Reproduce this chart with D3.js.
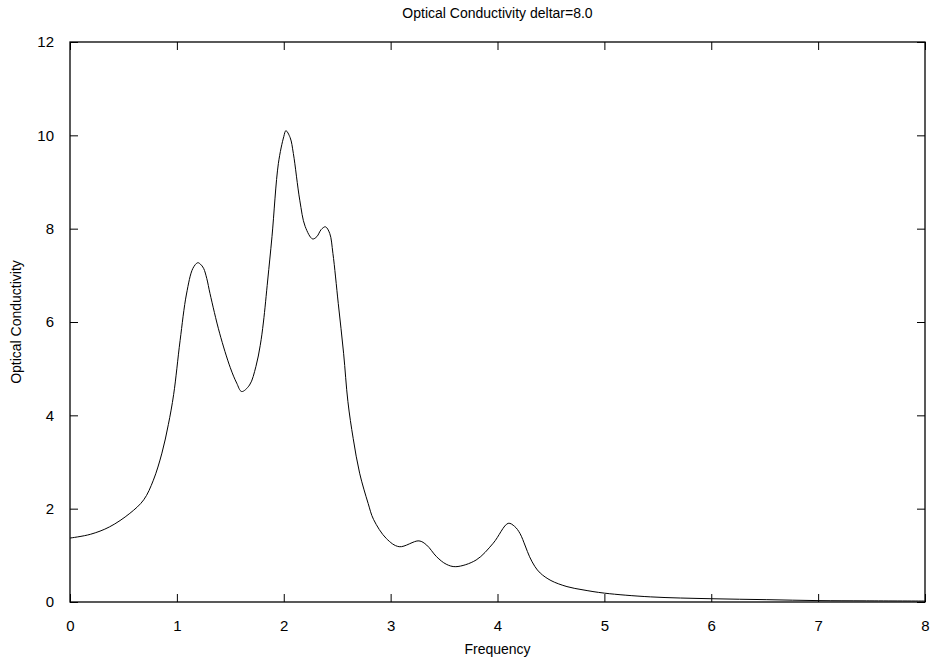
<!DOCTYPE html>
<html>
<head>
<meta charset="utf-8">
<script src="https://cdn.jsdelivr.net/npm/d3@7"></script>
<style>
  body { margin: 0; background: #fff; }
  svg { display: block; font-family: "Liberation Sans", Arial, sans-serif; }
</style>
</head>
<body>
<div id="chart"></div>
<script>
// values
const freq = [0, 0.19, 0.37, 0.56, 0.69, 0.78, 0.86, 0.92, 0.97, 1.03, 1.09, 1.15, 1.195, 1.22, 1.25, 1.28, 1.31, 1.4, 1.5, 1.56, 1.606, 1.68, 1.74, 1.78, 1.81, 1.85, 1.89, 1.95, 2.0, 2.02, 2.06, 2.09, 2.15, 2.2, 2.27, 2.31, 2.35, 2.39, 2.43, 2.46, 2.51, 2.56, 2.6, 2.65, 2.71, 2.79, 2.84, 2.96, 3.08, 3.265, 3.337, 3.43, 3.52, 3.61, 3.8, 3.96, 4.1, 4.16, 4.21, 4.26, 4.3, 4.35, 4.4, 4.5, 4.65, 4.8, 5.0, 5.43, 6.0, 6.52, 7.0, 7.45, 8.0];
const sigma = [1.37, 1.45, 1.61, 1.9, 2.19, 2.61, 3.19, 3.8, 4.45, 5.6, 6.6, 7.15, 7.27, 7.24, 7.15, 6.93, 6.61, 5.76, 5.02, 4.69, 4.51, 4.65, 5.05, 5.5, 6.0, 6.9, 7.83, 9.4, 9.97, 10.1, 9.95, 9.61, 8.61, 8.05, 7.78, 7.83, 7.98, 8.04, 7.9, 7.47, 6.4, 5.33, 4.3, 3.5, 2.76, 2.11, 1.77, 1.36, 1.185, 1.31, 1.22, 0.97, 0.81, 0.757, 0.9, 1.26, 1.686, 1.62, 1.47, 1.2, 0.97, 0.76, 0.62, 0.46, 0.33, 0.26, 0.19, 0.11, 0.07, 0.05, 0.03, 0.025, 0.02];
const xTicks = [0, 1, 2, 3, 4, 5, 6, 7, 8];
const yTicks = [0, 2, 4, 6, 8, 10, 12];

const w = 932, h = 662;
const padL = 70, padR = 925, padT = 42, padB = 602;

const xScale = d3.scaleLinear().domain([0, 8]).range([padL, padR]);
const yScale = d3.scaleLinear().domain([0, 12]).range([padB, padT]);

const svg = d3.select("#chart").append("svg")
  .attr("width", w)
  .attr("height", h);

// axes: ticks pointing inward, mirrored on opposite side
const xAxis = d3.axisBottom(xScale).tickValues(xTicks).tickSizeInner(-8).tickSizeOuter(0).tickPadding(18);
const yAxis = d3.axisLeft(yScale).tickValues(yTicks).tickSizeInner(-8).tickSizeOuter(0).tickPadding(16);
const xTop = d3.axisTop(xScale).tickValues(xTicks).tickSizeInner(-8).tickSizeOuter(0).tickFormat("");
const yRight = d3.axisRight(yScale).tickValues(yTicks).tickSizeInner(-8).tickSizeOuter(0).tickFormat("");

svg.append("g").attr("transform", `translate(0,${padB})`).call(xAxis);
svg.append("g").attr("transform", `translate(${padL},0)`).call(yAxis);
svg.append("g").attr("transform", `translate(0,${padT})`).call(xTop);
svg.append("g").attr("transform", `translate(${padR},0)`).call(yRight);

svg.selectAll(".domain").remove();
svg.selectAll(".tick line").attr("stroke", "#000");
svg.selectAll(".tick text").style("font-size", "15px").attr("fill", "#000");

// frame
svg.append("rect")
  .attr("x", padL).attr("y", padT)
  .attr("width", padR - padL).attr("height", padB - padT)
  .attr("fill", "none").attr("stroke", "#000").attr("stroke-width", 1.3);

// curve
const line = d3.line()
  .x((d, i) => xScale(freq[i]))
  .y(d => yScale(d))
  .curve(d3.curveCatmullRom.alpha(0.5));

svg.append("path")
  .datum(sigma)
  .attr("d", line)
  .attr("fill", "none")
  .attr("stroke", "#000")
  .attr("stroke-width", 1);

// labels
svg.append("text")
  .attr("x", (padL + padR) / 2).attr("y", 18)
  .attr("text-anchor", "middle").style("font-size", "14px")
  .text("Optical Conductivity deltar=8.0");

svg.append("text")
  .attr("x", (padL + padR) / 2).attr("y", 654)
  .attr("text-anchor", "middle").style("font-size", "14px")
  .text("Frequency");

svg.append("text")
  .attr("transform", `translate(21,${(padT + padB) / 2}) rotate(-90)`)
  .attr("text-anchor", "middle").style("font-size", "14px")
  .text("Optical Conductivity");
</script>
</body>
</html>
